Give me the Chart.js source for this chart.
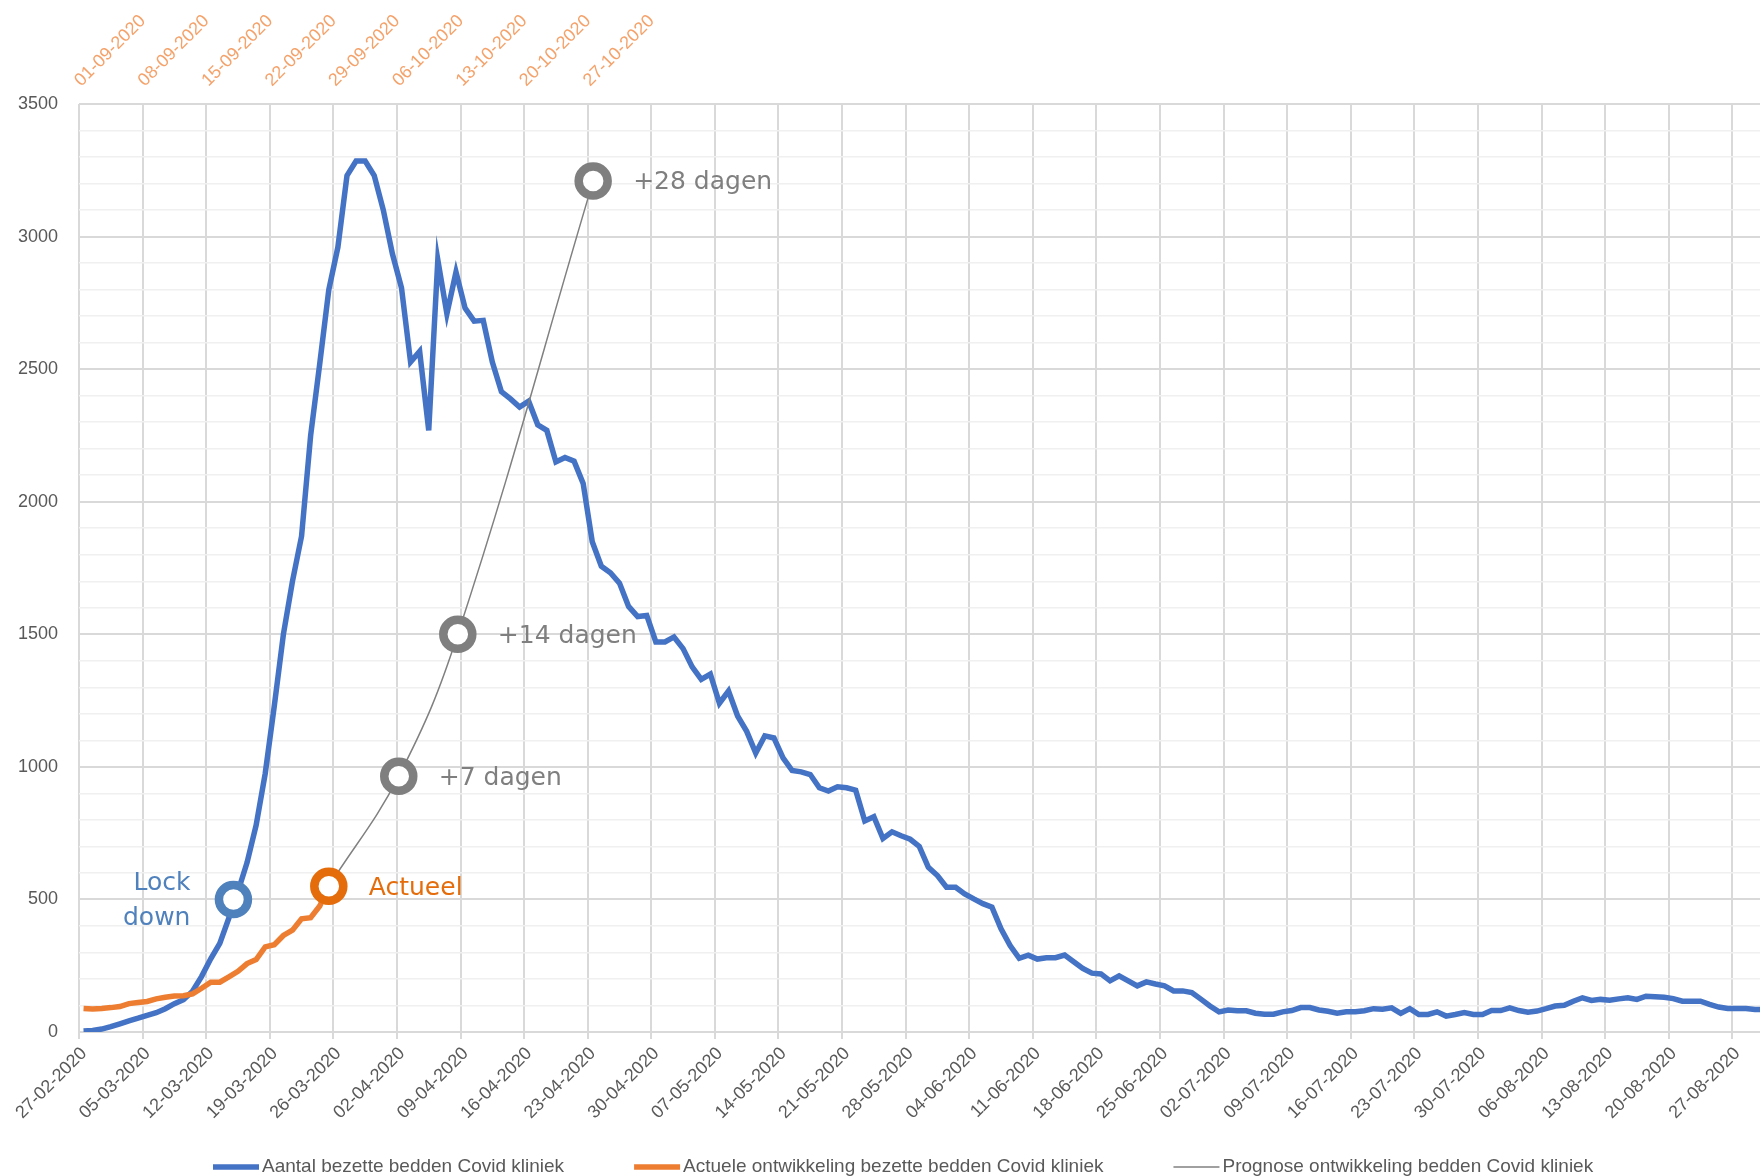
<!DOCTYPE html>
<html>
<head>
<meta charset="utf-8">
<script src="https://cdn.jsdelivr.net/npm/chart.js@4.4.0/dist/chart.umd.min.js"></script>
<style>
    html, body { margin: 0; padding: 0; background: #ffffff; overflow: hidden; }
</style>
</head>
<body>
<canvas id="bedsChart" width="1760" height="1176"></canvas>
<script>
/* Covid kliniek - bezette bedden, voorjaar vs najaar + prognose */

// tick labels (one every 7 days)
var bottomTickLabels = [
    '27-02-2020', '05-03-2020', '12-03-2020', '19-03-2020', '26-03-2020', '02-04-2020', '09-04-2020',
    '16-04-2020', '23-04-2020', '30-04-2020', '07-05-2020', '14-05-2020', '21-05-2020', '28-05-2020',
    '04-06-2020', '11-06-2020', '18-06-2020', '25-06-2020', '02-07-2020', '09-07-2020', '16-07-2020',
    '23-07-2020', '30-07-2020', '06-08-2020', '13-08-2020', '20-08-2020', '27-08-2020'
];
var topTickLabels = [
    '01-09-2020', '08-09-2020', '15-09-2020', '22-09-2020', '29-09-2020',
    '06-10-2020', '13-10-2020', '20-10-2020', '27-10-2020'
];

var seriesNames = [
    'Aantal bezette bedden Covid kliniek',
    'Actuele ontwikkeling bezette bedden Covid kliniek',
    'Prognose ontwikkeling bedden Covid kliniek'
];

// daily values from 27-02-2020
var bedsValues = [
    4, 6, 11, 20, 31, 42, 52, 63, 73, 88, 107, 122, 154, 210,
    276, 334, 430, 530, 639, 780, 975, 1230, 1500, 1700, 1870, 2250, 2520, 2800,
    2960, 3230, 3285, 3285, 3230, 3100, 2935, 2807, 2527, 2567, 2269, 2912, 2709, 2866,
    2730, 2681, 2684, 2527, 2415, 2388, 2357, 2379, 2290, 2269, 2150, 2167, 2153, 2069,
    1849, 1757, 1732, 1693, 1605, 1567, 1571, 1471, 1471, 1490, 1446, 1377, 1330, 1350,
    1240, 1286, 1192, 1134, 1052, 1117, 1109, 1034, 986, 981, 971, 921, 909, 925,
    921, 912, 796, 812, 730, 755, 740, 727, 700, 621, 590, 546, 546, 521,
    502, 484, 471, 389, 326, 278, 290, 275, 280, 280, 290, 265, 240, 222,
    219, 193, 212, 193, 174, 189, 181, 174, 155, 155, 149, 124, 98, 76,
    83, 80, 80, 71, 67, 67, 76, 81, 92, 92, 83, 78, 71, 76,
    76, 80, 88, 86, 91, 70, 88, 66, 66, 76, 60, 66, 73, 66,
    66, 81, 81, 91, 81, 75, 79, 88, 98, 101, 116, 129, 119, 123,
    120, 125, 129, 123, 135, 133, 131, 126, 116, 116, 116, 104, 94, 89,
    89, 89, 85, 85
];

// daily values from 01-09-2020 (plotted on the same day offsets)
var actualValues = [
    89, 87, 89, 92, 96, 107, 111, 115, 125, 131, 136, 137, 144, 165,
    188, 188, 208, 229, 258, 273, 321, 329, 364, 384, 427, 431, 475, 550
];

// prognose: actueel, +7, +14, +28 dagen
var prognoseLabels = ['Actueel', '+7 dagen', '+14 dagen', '+28 dagen'];
var prognoseDays = [27, 34.7, 41.2, 56.1];
var prognoseValues = [550, 965, 1500, 3210];

var lockdownLabel = ['Lock', 'down'];
var lockdownDay = 16.5;
var lockdownValue = 500;

var yMax = 3500;

document.addEventListener('DOMContentLoaded', function () {

    var BLUE = '#4472C4';
    var ORANGE = '#ED7D31';
    var GREY = '#7F7F7F';
    var AXIS_TEXT = '#595959';
    var FONT = "'Liberation Sans', Arial, sans-serif";

    function toPoints(values, start) {
        return values.map(function (v, i) { return { x: (start || 0) + i, y: v }; });
    }

    var prognosePoints = prognoseDays.map(function (d, i) { return { x: d, y: prognoseValues[i] }; });

    /* TEXT NEXT TO THE MARKERS */
    var markerTextPlugin = {
        id: 'markerText',
        afterDatasetsDraw: function (chart) {
            var c = chart.ctx;
            var xs = chart.scales.x;
            var ys = chart.scales.y;
            c.save();
            c.font = "25px 'DejaVu Sans', Verdana, sans-serif";
            c.textBaseline = 'middle';

            var lx = xs.getPixelForValue(lockdownDay);
            var ly = ys.getPixelForValue(lockdownValue);
            c.fillStyle = '#4F81BD';
            c.textAlign = 'right';
            c.fillText(lockdownLabel[0], lx - 43, ly - 16);
            c.fillText(lockdownLabel[1], lx - 43, ly + 19);

            c.textAlign = 'left';
            prognoseLabels.forEach(function (t, i) {
                c.fillStyle = i === 0 ? '#E46C0A' : GREY;
                c.fillText(t, xs.getPixelForValue(prognoseDays[i]) + 40, ys.getPixelForValue(prognoseValues[i]) + 2);
            });
            c.restore();
        }
    };

    /* LEGEND ALONG THE BOTTOM EDGE */
    var bottomLegendPlugin = {
        id: 'bottomLegend',
        afterDraw: function (chart) {
            var c = chart.ctx;
            var sets = [chart.data.datasets[4], chart.data.datasets[2], chart.data.datasets[3]];
            var x = 213;
            var y = 1167;
            c.save();
            c.font = '19px ' + FONT;
            c.textBaseline = 'middle';
            c.textAlign = 'left';
            seriesNames.forEach(function (name, i) {
                c.strokeStyle = sets[i].borderColor;
                c.lineWidth = sets[i].borderWidth;
                c.beginPath();
                c.moveTo(x, y);
                c.lineTo(x + 46, y);
                c.stroke();
                c.fillStyle = AXIS_TEXT;
                c.fillText(name, x + 49, y);
                x += 49 + c.measureText(name).width + 70;
            });
            c.restore();
        }
    };

    var ctx = document.getElementById('bedsChart');

    new Chart(ctx, {
        type: 'line',
        data: {
            datasets: [
                {
                    label: 'Lock down',
                    data: [{ x: lockdownDay, y: lockdownValue }],
                    showLine: false,
                    pointRadius: 14.5,
                    pointBorderWidth: 8.5,
                    pointBorderColor: '#4F81BD',
                    pointBackgroundColor: '#ffffff',
                    order: 0
                },
                {
                    label: 'Prognose punten',
                    data: prognosePoints,
                    showLine: false,
                    pointRadius: 14.5,
                    pointBorderWidth: 8.5,
                    pointBorderColor: ['#E46C0A', GREY, GREY, GREY],
                    pointBackgroundColor: '#ffffff',
                    order: 1
                },
                {
                    label: seriesNames[1],
                    data: toPoints(actualValues),
                    borderColor: ORANGE,
                    borderWidth: 5.5,
                    pointRadius: 0,
                    order: 2
                },
                {
                    label: seriesNames[2],
                    data: prognosePoints,
                    borderColor: '#808080',
                    borderWidth: 1.5,
                    tension: 0.4,
                    pointRadius: 0,
                    order: 3
                },
                {
                    label: seriesNames[0],
                    data: toPoints(bedsValues),
                    borderColor: BLUE,
                    borderWidth: 5.5,
                    pointRadius: 0,
                    order: 4
                }
            ]
        },
        options: {
            responsive: false,
            animation: false,
            layout: { padding: 0, autoPadding: false },
            plugins: {
                legend: { display: false },
                tooltip: { enabled: false }
            },
            scales: {
                x: {
                    type: 'linear',
                    position: 'bottom',
                    min: -0.5,
                    max: 184.55,
                    afterBuildTicks: function (axis) {
                        axis.ticks = bottomTickLabels.map(function (l, i) { return { value: i * 7 - 0.5 }; });
                    },
                    afterFit: function (axis) { axis.height = 144; },
                    ticks: {
                        autoSkip: false,
                        minRotation: 45,
                        maxRotation: 45,
                        padding: 4,
                        labelOffset: 5,
                        color: AXIS_TEXT,
                        font: { family: FONT, size: 18 },
                        callback: function (value, index) { return bottomTickLabels[index]; }
                    },
                    grid: { color: '#D9D9D9', lineWidth: 2, tickLength: 7 },
                    border: { display: false }
                },
                x2: {
                    type: 'linear',
                    position: 'top',
                    min: -0.5,
                    max: 184.55,
                    afterBuildTicks: function (axis) {
                        axis.ticks = topTickLabels.map(function (l, i) { return { value: i * 7 - 0.5 }; });
                    },
                    afterFit: function (axis) { axis.height = 104; },
                    ticks: {
                        autoSkip: false,
                        minRotation: 45,
                        maxRotation: 45,
                        padding: 13,
                        labelOffset: 14,
                        color: '#F5A26A',
                        font: { family: FONT, size: 18 },
                        callback: function (value, index) { return topTickLabels[index]; }
                    },
                    grid: { display: false, drawTicks: false },
                    border: { display: false }
                },
                y: {
                    min: 0,
                    max: yMax,
                    afterFit: function (axis) { axis.width = 79; },
                    ticks: {
                        stepSize: 100,
                        autoSkip: false,
                        padding: 21,
                        color: AXIS_TEXT,
                        font: { family: FONT, size: 18 },
                        callback: function (value) { return value % 500 === 0 ? value : ''; }
                    },
                    grid: {
                        drawTicks: false,
                        color: function (c) { return c.tick && c.tick.value % 500 === 0 ? '#D9D9D9' : '#F0F0F0'; },
                        lineWidth: function (c) { return c.tick && c.tick.value % 500 === 0 ? 2 : 1.5; }
                    },
                    border: { display: false }
                }
            }
        },
        plugins: [markerTextPlugin, bottomLegendPlugin]
    });
});
</script>
</body>
</html>
